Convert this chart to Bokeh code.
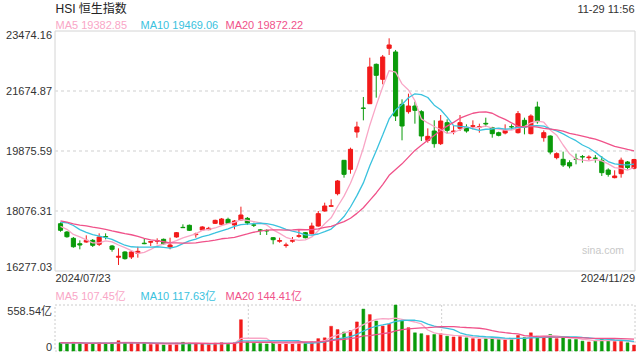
import numpy as np
from bokeh.plotting import figure
from bokeh.models import ColumnDataSource, Range1d, Label
from bokeh.embed import file_html
from bokeh.resources import INLINE

# ---------------- data ----------------
title_text = "HSI 恒生指数"
time_text = "11-29 11:56"
start_date = "2024/07/23"
end_date = "2024/11/29"
watermark = "sina.com"

price_ticks = [16277.03, 18076.31, 19875.59, 21674.87, 23474.16]
price_tick_labels = ["16277.03", "18076.31", "19875.59", "21674.87", "23474.16"]
vol_ticks = [0, 558.54]
vol_tick_labels = ["0", "558.54亿"]

ma_names = ["MA5", "MA10", "MA20"]
ma_windows = [5, 10, 20]
ma_price_values = ["19382.85", "19469.06", "19872.22"]
ma_vol_values = ["107.45亿", "117.63亿", "144.41亿"]

# closes of the 19 sessions before the first candle (feed the moving averages)
pre_closes = [18072.9, 18089.9, 17716.5, 17718.6, 17769.1, 17978.6, 18028.3, 17799.6,
              17524.1, 17523.2, 17471.7, 17832.3, 18293.4, 18015.9, 17727.9, 17739.4,
              17778.4, 17417.7, 17635.9]

opens = [17695, 17446, 17257, 17095, 17146, 17197, 17077, 17310, 17027, 16690,
         16847, 16697, 16808, 17111, 17140, 17170, 17227, 16997, 17297, 17586,
         17647, 17367, 17507, 17517, 17706, 17676, 17826, 17656, 17806, 17856,
         17660, 17510, 17490, 17276, 17170, 17040, 17170, 17316, 17426, 17397,
         17626, 18076, 18216, 18596, 19596, 19326, 20446, 21165, 21294, 22475,
         22025, 22955, 22845, 21275, 21055, 21225, 21055, 20195, 20475, 20095,
         20725, 20455, 20555, 20575, 20615, 20585, 20705, 20575, 20425, 20415,
         20605, 20425, 20795, 20395, 21195, 20275, 20325, 19676, 19626, 19526,
         19636, 19706, 19675, 19665, 19596, 19306, 19076, 19196, 19546, 19356]
highs = [17735, 17477, 17297, 17197, 17346, 17236, 17406, 17406, 17057, 16957,
         16870, 16877, 17007, 17257, 17177, 17257, 17250, 17276, 17446, 17677,
         17670, 17426, 17620, 17600, 17816, 17866, 17876, 17806, 18206, 17896,
         17726, 17537, 17527, 17297, 17276, 17126, 17297, 17527, 17446, 17726,
         18076, 18326, 18426, 19006, 19606, 19976, 20755, 21495, 22674, 22500,
         22755, 23255, 22905, 21425, 21595, 21355, 21100, 20555, 20796, 20955,
         20826, 20625, 20955, 20675, 20795, 20695, 20875, 20600, 20455, 20675,
         20675, 21075, 20875, 20975, 21355, 20495, 20345, 19836, 19856, 19596,
         19796, 19756, 19746, 19756, 19726, 19356, 19296, 19676, 19576, 19640]
lows = [17455, 17275, 16975, 16927, 17126, 16997, 17026, 17226, 16857, 16457,
        16620, 16637, 16677, 17081, 17027, 17077, 17057, 16927, 17276, 17566,
        17477, 17277, 17480, 17500, 17686, 17656, 17686, 17527, 17790, 17656,
        17596, 17357, 17357, 17077, 17126, 16977, 17126, 17276, 17256, 17377,
        17606, 18056, 18206, 18546, 19076, 19196, 20274, 20795, 21294, 21475,
        21875, 22755, 20775, 20196, 20995, 20695, 20175, 20125, 19975, 20055,
        20395, 20375, 20475, 20425, 20525, 20425, 20595, 20275, 20315, 20375,
        20525, 20400, 20375, 20375, 20695, 20155, 19776, 19626, 19396, 19356,
        19476, 19526, 19596, 19526, 19126, 19106, 19056, 19076, 19326, 19326]
closes = [17497, 17305, 17005, 17056, 17197, 17047, 17296, 17296, 16927, 16720,
          16647, 16847, 16867, 17096, 17160, 17190, 17096, 17057, 17426, 17576,
          17497, 17387, 17597, 17557, 17796, 17836, 17706, 17776, 17956, 17716,
          17650, 17497, 17477, 17216, 17190, 17060, 17190, 17336, 17276, 17626,
          17996, 18226, 18236, 18976, 19176, 19926, 20596, 21155, 22395, 22145,
          22695, 23055, 20925, 20625, 21225, 21095, 20325, 20315, 20095, 20775,
          20495, 20475, 20725, 20475, 20635, 20605, 20685, 20395, 20345, 20495,
          20595, 20995, 20595, 20925, 20755, 20425, 19845, 19796, 19456, 19426,
          19626, 19696, 19695, 19655, 19226, 19176, 19126, 19600, 19380, 19620]
volumes = [100, 95, 105, 95, 85, 90, 100, 95, 100, 125,
           100, 95, 90, 95, 80, 85, 75, 90, 95, 105,
           95, 85, 90, 80, 95, 100, 90, 100, 380, 110,
           95, 90, 85, 100, 95, 100, 90, 100, 105, 110,
           150, 160, 300, 260, 230, 248, 353, 509, 442, 364,
           303, 326, 558.54, 372, 283, 221, 210, 190, 200, 210,
           180, 170, 175, 160, 150, 145, 150, 160, 140, 135,
           140, 190, 165, 221, 180, 170, 200, 150, 160, 140,
           140, 120, 110, 120, 150, 130, 115, 120, 100, 72]

# ---------------- styles / layout ----------------
UP = "#f21a1a"
DOWN = "#0a9b0a"
MA_COLORS = ["#f9a6c6", "#3ac2de", "#f0528a"]
FONT = "Liberation Sans, Noto Sans CJK SC"
TXT = "#333333"
BORDER = "#d4d4d4"

CW, CH = 640, 360           # canvas
PL, PR = 54.5, 634.5        # plot-area left/right (px)
PT, PB = 30.5, 270.5        # price panel top/bottom (px)
VT, VB = 304.5, 350.5       # volume panel top/bottom (px)

n = len(closes)
x = np.arange(n)
o = np.array(opens, float)
h = np.array(highs, float)
l = np.array(lows, float)
c = np.array(closes, float)
vol = np.array(volumes, float)
colors = [UP if cc >= oo else DOWN for oo, cc in zip(o, c)]


def trailing_mean(arr, w, start):
    return np.array([arr[max(0, i - w + 1): i + 1].mean() for i in range(start, len(arr))])


allc = np.array(pre_closes + closes, float)
price_ma = [trailing_mean(allc, w, len(pre_closes)) for w in ma_windows]
vol_ma = [trailing_mean(vol, w, 0) for w in ma_windows]

src = ColumnDataSource(dict(x=x, o=o, h=h, l=l, c=c,
                            top=np.maximum(o, c), bottom=np.minimum(o, c),
                            color=colors, vol=vol))

# ranges: whole canvas is the frame; panels are placed through the ranges
x_lo, x_hi = -0.854, n - 0.845
sx = (PR - PL) / (x_hi - x_lo)
XR = Range1d(x_lo - PL / sx, x_hi + (CW - PR) / sx)

p_lo, p_hi = price_ticks[0], price_ticks[-1]
ky = (p_hi - p_lo) / (PB - PT)
YR = Range1d(p_lo - (CH - PB) * ky, p_hi + PT * ky)

v_lo, v_hi = vol_ticks[0], vol_ticks[-1]
kv = (v_hi - v_lo) / (VB - VT)
VR = Range1d(v_lo - (CH - VB) * kv, v_hi + VT * kv)

p = figure(width=CW, height=CH, x_range=XR, y_range=YR,
           x_axis_type=None, y_axis_type=None, min_border=0,
           output_backend="svg", toolbar_location=None)
p.outline_line_color = None
p.background_fill_color = "white"
p.border_fill_color = "white"
p.extra_y_ranges = {"vol": VR}

# ---- price panel frame and grid ----
p.quad(left=x_lo, right=x_hi, bottom=p_lo, top=p_hi, fill_color=None,
       line_color=BORDER, line_width=1)
for t in price_ticks[1:-1]:
    p.segment(x0=x_lo, y0=t, x1=x_hi, y1=t, line_color="#e0e0e0",
              line_dash="3 3", line_width=1.5)

# ---- candles ----
p.segment("x", "l", "x", "h", source=src, line_color="color", line_width=1)
p.vbar(x="x", width=0.64, top="top", bottom="bottom", source=src,
       fill_color="color", line_color="color", line_width=1)
for ma, col in zip(price_ma, MA_COLORS):
    p.line(x, ma, line_color=col, line_width=1.3)

# ---- volume panel ----
p.quad(left=x_lo, right=x_hi, bottom=v_lo, top=v_hi, fill_color=None,
       line_color="#cccccc", line_dash="2 2", line_width=1, y_range_name="vol")
span = x_hi - x_lo
for fr in (1 / 3, 2 / 3):
    xv = x_lo + span * fr
    p.segment(x0=xv, y0=v_lo, x1=xv, y1=v_hi, line_color="#d0d0d0",
              line_dash="2 2", line_width=1, y_range_name="vol")
p.vbar(x="x", width=0.45, top="vol", bottom=0, source=src, y_range_name="vol",
       fill_color="color", line_color="color", line_width=0.5)
for ma, col in zip(vol_ma, MA_COLORS):
    p.line(x, ma, line_color=col, line_width=1.3, y_range_name="vol")


# ---- texts ----
def lab(text, px, py, align="left", baseline="middle", color=TXT, size="11px"):
    p.add_layout(Label(x=px, y=CH - py, x_units="screen", y_units="screen", text=text,
                       text_align=align, text_baseline=baseline, text_color=color,
                       text_font_size=size, text_font=FONT))


lab(title_text, 55, 8.5, size="12px", color="#222222")
lab(time_text, 634, 8.5, align="right")
for k, (nm, val) in enumerate(zip(ma_names, ma_price_values)):
    lab(f"{nm} {val}", 55 + 85 * k, 24.5, color=MA_COLORS[k])
lab(start_date, 55, 277.5)
lab(end_date, 634.5, 277.5, align="right")
lab(watermark, 623.5, 249.5, align="right", color="#c8c8c8", size="10.5px")
for k, (nm, val) in enumerate(zip(ma_names, ma_vol_values)):
    lab(f"{nm} {val}", 55 + 85 * k, 295.5, color=MA_COLORS[k])

for k, (tv, tl) in enumerate(zip(price_ticks, price_tick_labels)):
    bl = "bottom" if k == 0 else ("top" if k == len(price_ticks) - 1 else "middle")
    p.add_layout(Label(x=51.5, y=tv, x_units="screen", y_units="data", text=tl,
                       text_align="right", text_baseline=bl, text_color=TXT,
                       text_font_size="11px", text_font=FONT))
for tv, tl, bl in zip(vol_ticks, vol_tick_labels, ["bottom", "top"]):
    p.add_layout(Label(x=51.5, y=tv, x_units="screen", y_units="data", text=tl,
                       y_range_name="vol", text_align="right", text_baseline=bl,
                       text_color=TXT, text_font_size="11px", text_font=FONT))

open("out.html", "w").write(file_html(p, INLINE, title="HSI 恒生指数"))
